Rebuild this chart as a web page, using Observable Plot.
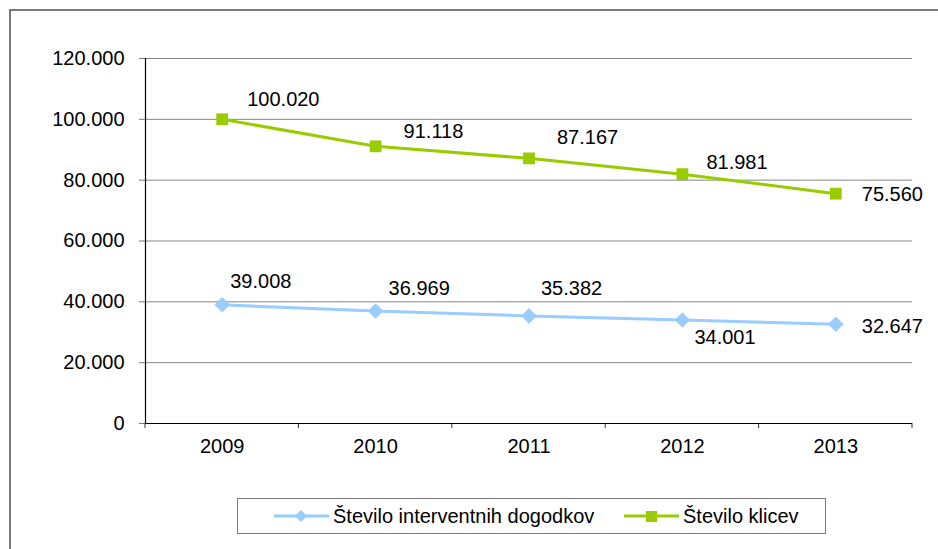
<!DOCTYPE html>
<html>
<head>
<meta charset="utf-8">
<script src="https://cdn.jsdelivr.net/npm/d3@7"></script>
<script src="https://cdn.jsdelivr.net/npm/@observablehq/plot@0.6"></script>
<style>
  html, body { margin: 0; padding: 0; background: #fff; }
  body { width: 938px; height: 549px; position: relative; overflow: hidden;
         font-family: "Liberation Sans", Arial, sans-serif; }
  #frame { position: absolute; left: 9px; top: 9px; width: 1000px; height: 600px;
           border-left: 2px solid #7a7a7a; border-top: 2px solid #7a7a7a; }
  #chart { position: absolute; left: 0; top: 0; }
  #legend { position: absolute; left: 237px; top: 498px; width: 589px; height: 36px;
            border: 1px solid #7a7a7a; box-sizing: border-box; background: #fff;
            font-size: 20px; color: #000; }
  .item { position: absolute; top: 0; height: 34px; display: flex; align-items: center; }
  .item svg { margin-right: 4px; }
</style>
</head>
<body>
<div id="frame"></div>
<div id="chart"></div>
<div id="legend"></div>
<script>
const years = [2009, 2010, 2011, 2012, 2013];
const seriesNames = ["Število interventnih dogodkov", "Število klicev"];
const interventions = [39008, 36969, 35382, 34001, 32647];
const calls = [100020, 91118, 87167, 81981, 75560];
const yTicks = [0, 20000, 40000, 60000, 80000, 100000, 120000];
const colors = ["#99CCFF", "#99CC00"];

const fmt = v => d3.format(",")(v).replace(/,/g, ".");

const rows = [];
years.forEach((yr, i) => {
  rows.push({year: yr, value: interventions[i], series: seriesNames[0], idx: i});
  rows.push({year: yr, value: calls[i], series: seriesNames[1], idx: i});
});
const blue = rows.filter(d => d.series === seriesNames[0]);
const green = rows.filter(d => d.series === seriesNames[1]);

// label placement (pixel offsets relative to each point)
const blueOff = [[8, -23], [13, -22], [12, -27], [12, 18], [26, 2]];
const greenOff = [[25, -20], [28, -15], [28, -21], [24, -12], [26, 1]];

const boundaries = d3.range(years.length + 1).map(i => years[0] - 0.5 + i);
const font = "Liberation Sans, Arial, sans-serif";

const labelMarks = [];
blue.forEach((d, i) => labelMarks.push(Plot.text([d], {x: "year", y: "value", text: d => fmt(d.value),
  textAnchor: "start", dx: blueOff[i][0], dy: blueOff[i][1], fontSize: 20, fill: "#000"})));
green.forEach((d, i) => labelMarks.push(Plot.text([d], {x: "year", y: "value", text: d => fmt(d.value),
  textAnchor: "start", dx: greenOff[i][0], dy: greenOff[i][1], fontSize: 20, fill: "#000"})));

const chart = Plot.plot({
  width: 938,
  height: 470,
  marginLeft: 145,
  marginRight: 26,
  marginTop: 58,
  marginBottom: 47,
  style: {fontFamily: font, fontSize: "20px", background: "transparent", color: "#000"},
  x: {domain: [years[0] - 0.5, years[years.length - 1] + 0.5], axis: null, label: null},
  y: {domain: [0, 120000], axis: null, label: null},
  marks: [
    Plot.ruleY(yTicks.filter(t => t > 0), {stroke: "#868686", strokeWidth: 1}),
    Plot.axisY({ticks: yTicks, tickFormat: fmt, tickSize: 6, tickPadding: 15, stroke: "#777",
      fontSize: 20, fill: "#000", label: null}),
    Plot.axisX({ticks: years, tickFormat: d => String(d), tickSize: 0, tickPadding: 15, fontSize: 20,
      fill: "#000", label: null}),
    Plot.tickX(boundaries, {x: d => d, stroke: "#333",
      render: (index, scales) => {
        const g = d3.create("svg:g");
        const y0 = scales.y(0);
        for (const b of boundaries) {
          const x = scales.x(b);
          g.append("line").attr("x1", x).attr("x2", x).attr("y1", y0).attr("y2", y0 + 5)
            .attr("stroke", "#333").attr("stroke-width", 1);
        }
        return g.node();
      }}),
    Plot.ruleX([years[0] - 0.5], {y1: 0, y2: 120000, stroke: "#000", strokeWidth: 1.2}),
    Plot.ruleY([0], {x1: years[0] - 0.5, x2: years[years.length - 1] + 0.5, stroke: "#000", strokeWidth: 1.2}),
    Plot.line(blue, {x: "year", y: "value", stroke: colors[0], strokeWidth: 3}),
    Plot.dot(blue, {x: "year", y: "value", symbol: "diamond2", r: 7, fill: colors[0], stroke: "none"}),
    Plot.line(green, {x: "year", y: "value", stroke: colors[1], strokeWidth: 3}),
    Plot.dot(green, {x: "year", y: "value", symbol: "square2", r: 7.5, fill: colors[1], stroke: "none"}),
    ...labelMarks
  ]
});
document.getElementById("chart").appendChild(chart);

// legend
const legend = document.getElementById("legend");
const legendItems = [
  {name: seriesNames[0], color: colors[0], shape: "diamond", left: 36},
  {name: seriesNames[1], color: colors[1], shape: "square", left: 386}
];
legendItems.forEach(it => {
  const div = document.createElement("div");
  div.className = "item";
  div.style.left = it.left + "px";
  const marker = it.shape === "diamond"
    ? `<polygon points="27,1 33,7 27,13 21,7" fill="${it.color}"/>`
    : `<rect x="22" y="2" width="11" height="11" fill="${it.color}"/>`;
  div.innerHTML = `<svg width="55" height="14"><line x1="0" x2="55" y1="7" y2="7" stroke="${it.color}" stroke-width="3"/>${marker}</svg><span>${it.name}</span>`;
  legend.appendChild(div);
});
</script>
</body>
</html>
